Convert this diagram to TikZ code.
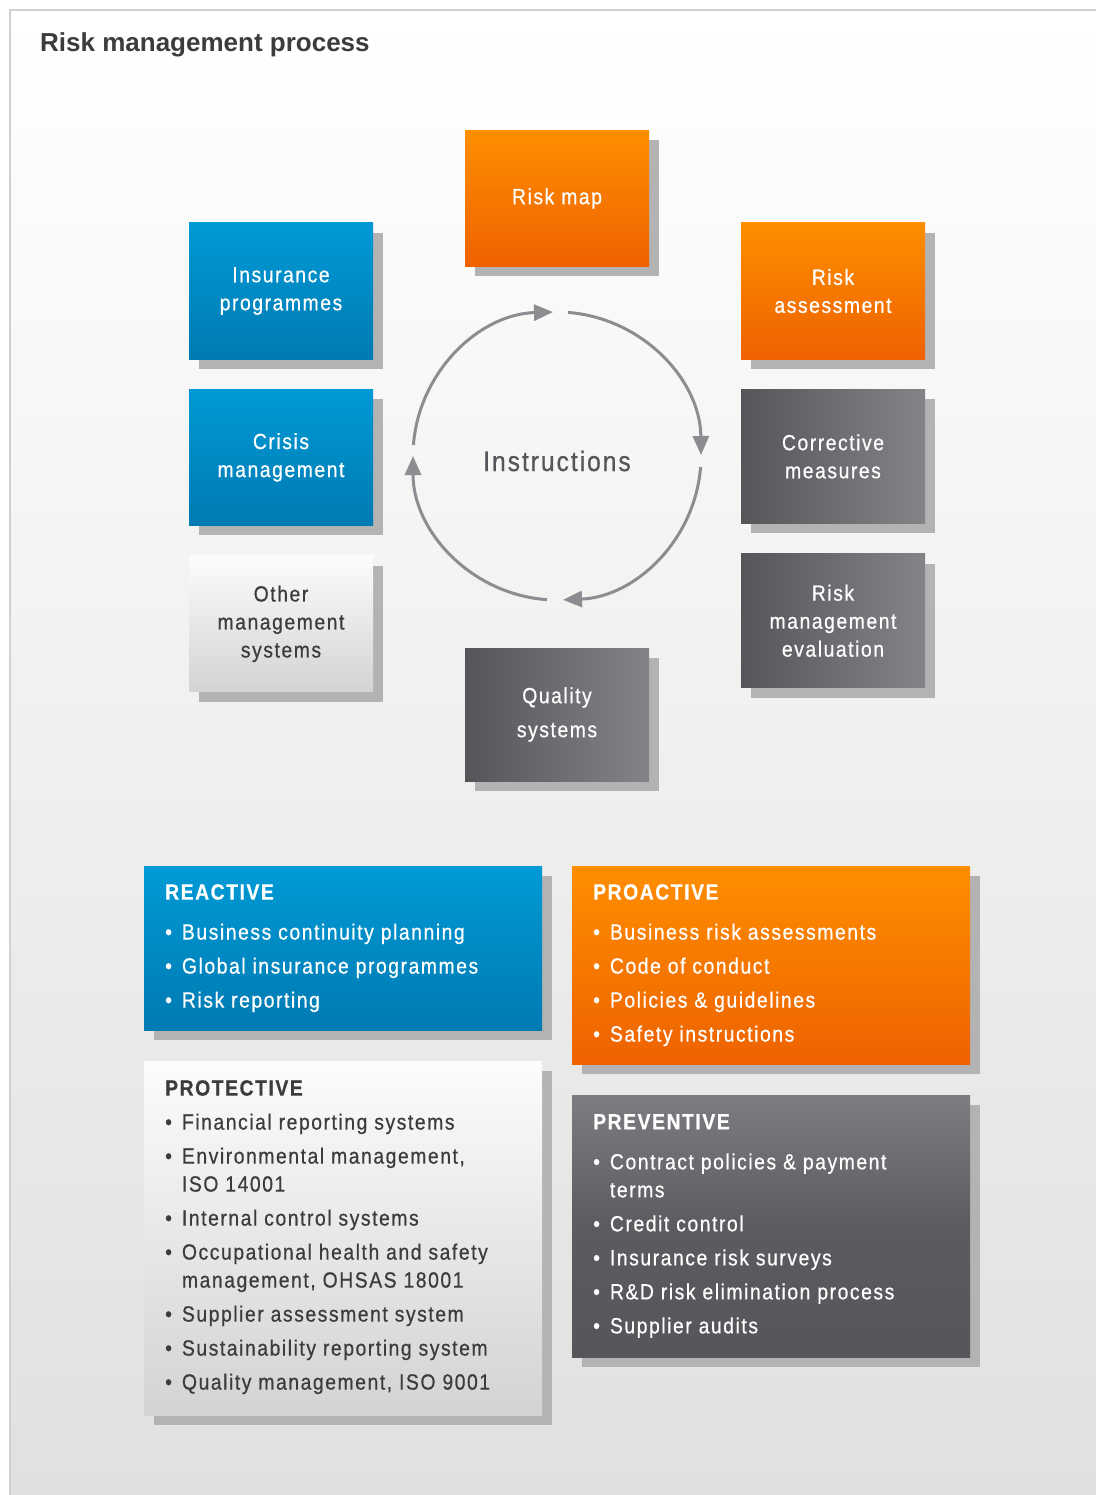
\documentclass[tikz,border=0pt]{standalone}
\usepackage{fontspec}
\setmainfont{Liberation Sans}
\newfontfamily\condfont[FakeStretch=0.88,LetterSpace=7,FakeBold=0.6]{Liberation Sans}
\usetikzlibrary{shadows,arrows.meta,positioning}
\definecolor{blueT}{HTML}{009AD6}
\definecolor{blueB}{HTML}{007AB2}
\definecolor{orangeT}{HTML}{FF8E00}
\definecolor{orangeB}{HTML}{EE6200}
\definecolor{greyL}{HTML}{55565A}
\definecolor{greyR}{HTML}{838487}
\definecolor{greyT}{HTML}{7C7D80}
\definecolor{greyM}{HTML}{5B5C5F}
\definecolor{greyB}{HTML}{555659}
\definecolor{lightT}{HTML}{FCFCFC}
\definecolor{lightB}{HTML}{D2D3D4}
\definecolor{shadowgrey}{HTML}{B3B3B3}
\definecolor{arrowgrey}{HTML}{8C8D90}
\definecolor{textdark}{HTML}{3C3C3C}
\definecolor{bgbottom}{HTML}{E0E0DE}
\definecolor{framegrey}{HTML}{D0D0D0}
\newcommand{\itm}{\textbullet\hspace{10pt}}
\newcommand{\cont}{\hphantom{\textbullet\hspace{10pt}}}
\tikzset{
box/.style={rectangle,inner sep=0pt,minimum width=184pt,minimum height=136pt,
  align=center,text=white,font=\condfont\fontsize{22}{28}\selectfont,
  drop shadow={shadow xshift=10pt,shadow yshift=-10pt,fill=shadowgrey,opacity=1}},
bluebox/.style={box,top color=blueT,bottom color=blueB},
orangebox/.style={box,top color=orangeT,bottom color=orangeB},
greybox/.style={box,left color=greyL,right color=greyR},
lightbox/.style={box,top color=lightT,bottom color=lightB,text=textdark},
panel/.style={box,anchor=north west,minimum width=398pt},
list/.style={anchor=north west,inner sep=0pt,align=left,
  font=\condfont\fontsize{22}{28}\selectfont},
cyclearrow/.style={draw=arrowgrey,line width=3pt,-{Triangle[length=19pt,width=16pt]}},
}
\begin{document}
\begin{tikzpicture}[x=1pt,y=-1pt]
\useasboundingbox (0,0) rectangle (1095,1495);
\fill[top color=white,bottom color=bgbottom] (10,10) rectangle (1100,1500);
\draw[framegrey,line width=1.5pt] (10,1500) |- (1100,10);
\node[anchor=base west,inner sep=0pt,text=textdark,font=\bfseries\fontsize{26}{30}\selectfont] (title) at (40,52) {Risk management process};

\node[orangebox] (map) at (557,198.5) {Risk map};
\node[bluebox] (insur) at (281,291) {Insurance\\programmes};
\node[bluebox,below=30pt of insur] (crisis) {Crisis\\management};
\node[lightbox,below=30pt of crisis] (other) {Other\\management\\systems};
\node[orangebox] (assess) at (833,291) {Risk\\assessment};
\node[greybox,below=30pt of assess,minimum height=134pt] (correct) {Corrective\\measures};
\node[greybox,below=30pt of correct,minimum height=134pt] (evaluation) {Risk\\management\\evaluation};
\node[greybox,minimum height=133pt] (quality) at (557,714.5) {Quality\\[6pt]systems};

\coordinate (hub) at (557,456);
\node[text=greyL,font=\condfont\fontsize{28}{34}\selectfont] (instr) at (557,461) {Instructions};
\draw[cyclearrow] (hub) ++(184.4:144) arc[start angle=184.4,end angle=268.4,radius=144];
\draw[cyclearrow] (hub) ++(274.4:144) arc[start angle=274.4,end angle=359.6,radius=144];
\draw[cyclearrow] (hub) ++(4.4:144) arc[start angle=4.4,end angle=87.6,radius=144];
\draw[cyclearrow] (hub) ++(94:144) arc[start angle=94,end angle=180,radius=144];

\node[panel,top color=blueT,bottom color=blueB,minimum height=164pt] (reactive) at (144,866) {};
\node[list,text=white] (reactivelist) at ([shift={(21,18)}]reactive.north west)
{\textbf{REACTIVE}\\[12pt]
\itm Business continuity planning\\[6pt]
\itm Global insurance programmes\\[6pt]
\itm Risk reporting};

\node[panel,top color=orangeT,bottom color=orangeB,minimum height=198pt] (proactive) at (572,866) {};
\node[list,text=white] (proactivelist) at ([shift={(21,18)}]proactive.north west)
{\textbf{PROACTIVE}\\[12pt]
\itm Business risk assessments\\[6pt]
\itm Code of conduct\\[6pt]
\itm Policies \& guidelines\\[6pt]
\itm Safety instructions};

\node[panel,top color=lightT,bottom color=lightB,minimum height=354pt] (protective) at (144,1061) {};
\node[list,text=textdark] (protectivelist) at ([shift={(21,19)}]protective.north west)
{\textbf{PROTECTIVE}\\[6pt]
\itm Financial reporting systems\\[6pt]
\itm Environmental management,\\
\cont ISO 14001\\[6pt]
\itm Internal control systems\\[6pt]
\itm Occupational health and safety\\
\cont management, OHSAS 18001\\[6pt]
\itm Supplier assessment system\\[6pt]
\itm Sustainability reporting system\\[6pt]
\itm Quality management, ISO 9001};

\node[panel,top color=greyT,bottom color=greyB,middle color=greyM,minimum height=262pt] (preventive) at (572,1095) {};
\node[list,text=white] (preventivelist) at ([shift={(21,19)}]preventive.north west)
{\textbf{PREVENTIVE}\\[12pt]
\itm Contract policies \& payment\\
\cont terms\\[6pt]
\itm Credit control\\[6pt]
\itm Insurance risk surveys\\[6pt]
\itm R\&D risk elimination process\\[6pt]
\itm Supplier audits};
\end{tikzpicture}
\end{document}
